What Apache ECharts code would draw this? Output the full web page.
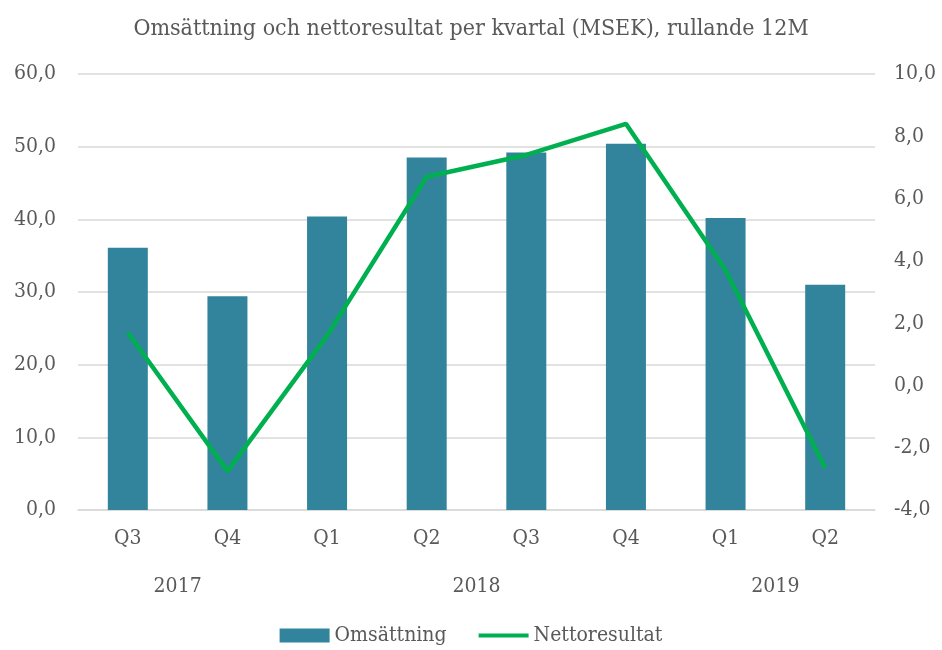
<!DOCTYPE html>
<html>
<head>
<meta charset="utf-8">
<script src="https://cdn.jsdelivr.net/npm/echarts@6/dist/echarts.min.js"></script>
<style>
  html, body { margin: 0; padding: 0; background: #fff; }
  #chart { width: 942px; height: 650px; }
</style>
</head>
<body>
<div id="chart"></div>
<script>
// kvartal och år
const quarters = ['Q3', 'Q4', 'Q1', 'Q2', 'Q3', 'Q4', 'Q1', 'Q2']
const years = ['2017', '2018', '2019']
const yearSpans = [2, 4, 2]

// MSEK
const omsattning = [36.1, 29.4, 40.4, 48.5, 49.2, 50.4, 40.2, 31.0]
const nettoresultat = [1.7, -2.75, 1.6, 6.7, 7.4, 8.4, 3.7, -2.65]

const leftTicks = { min: 0, max: 60, interval: 10 }
const rightTicks = { min: -4, max: 10, interval: 2 }

const textColor = '#595959'
const font = '"DejaVu Serif Condensed", "DejaVu Serif", "Liberation Serif", serif'

// årsetiketter centrerade under sina kvartal
const yearCenters = {}
let pos = 0
years.forEach((y, i) => {
  yearCenters[pos + yearSpans[i] / 2] = y
  pos += yearSpans[i]
})

const fmt = v => v.toFixed(1).replace('.', ',')

const chart = echarts.init(document.getElementById('chart'))
const option = {
  animation: false,
  textStyle: { fontFamily: font },
  title: {
    text: 'Omsättning och nettoresultat per kvartal (MSEK), rullande 12M',
    left: 'center',
    top: 13,
    textStyle: { color: textColor, fontSize: 23, fontWeight: 'normal', fontFamily: font }
  },
  legend: {
    bottom: -1,
    left: 'center',
    itemWidth: 50,
    itemHeight: 14,
    itemGap: 32,
    textStyle: { color: textColor, fontSize: 21, fontFamily: font },
    data: [
      { name: 'Omsättning', icon: 'rect' },
      { name: 'Nettoresultat', icon: 'path://M0,6 L50,6 L50,10 L0,10 Z' }
    ]
  },
  grid: { left: 78, right: 67, top: 74, bottom: 140 },
  xAxis: [
    {
      type: 'category',
      data: quarters,
      axisTick: { show: false },
      axisLine: { lineStyle: { color: '#d9d9d9', width: 1.5 } },
      axisLabel: { color: textColor, fontSize: 21, margin: 18, fontFamily: font }
    },
    {
      type: 'value',
      position: 'bottom',
      offset: 58,
      min: 0,
      max: quarters.length,
      interval: 0.5,
      axisLine: { show: false },
      axisTick: { show: false },
      splitLine: { show: false },
      axisLabel: {
        color: textColor, fontSize: 21, fontFamily: font,
        showMinLabel: true, showMaxLabel: true,
        formatter: v => yearCenters[v] || ''
      }
    }
  ],
  yAxis: [
    {
      type: 'value',
      min: leftTicks.min, max: leftTicks.max, interval: leftTicks.interval,
      axisLine: { show: false },
      axisTick: { show: false },
      splitLine: { lineStyle: { color: '#d9d9d9', width: 1.5 } },
      axisLabel: { color: textColor, fontSize: 21, margin: 22, formatter: fmt, fontFamily: font }
    },
    {
      type: 'value',
      min: rightTicks.min, max: rightTicks.max, interval: rightTicks.interval,
      axisLine: { show: false },
      axisTick: { show: false },
      splitLine: { show: false },
      axisLabel: { color: textColor, fontSize: 21, margin: 19, formatter: fmt, fontFamily: font }
    }
  ],
  series: [
    {
      name: 'Omsättning',
      type: 'bar',
      data: omsattning,
      barWidth: 40,
      itemStyle: { color: '#31849b' }
    },
    {
      name: 'Nettoresultat',
      type: 'line',
      yAxisIndex: 1,
      data: nettoresultat,
      showSymbol: false,
      symbol: 'none',
      lineStyle: { color: '#00b050', width: 4.5 },
      itemStyle: { color: '#00b050' }
    }
  ]
}
chart.setOption(option)
</script>
</body>
</html>
